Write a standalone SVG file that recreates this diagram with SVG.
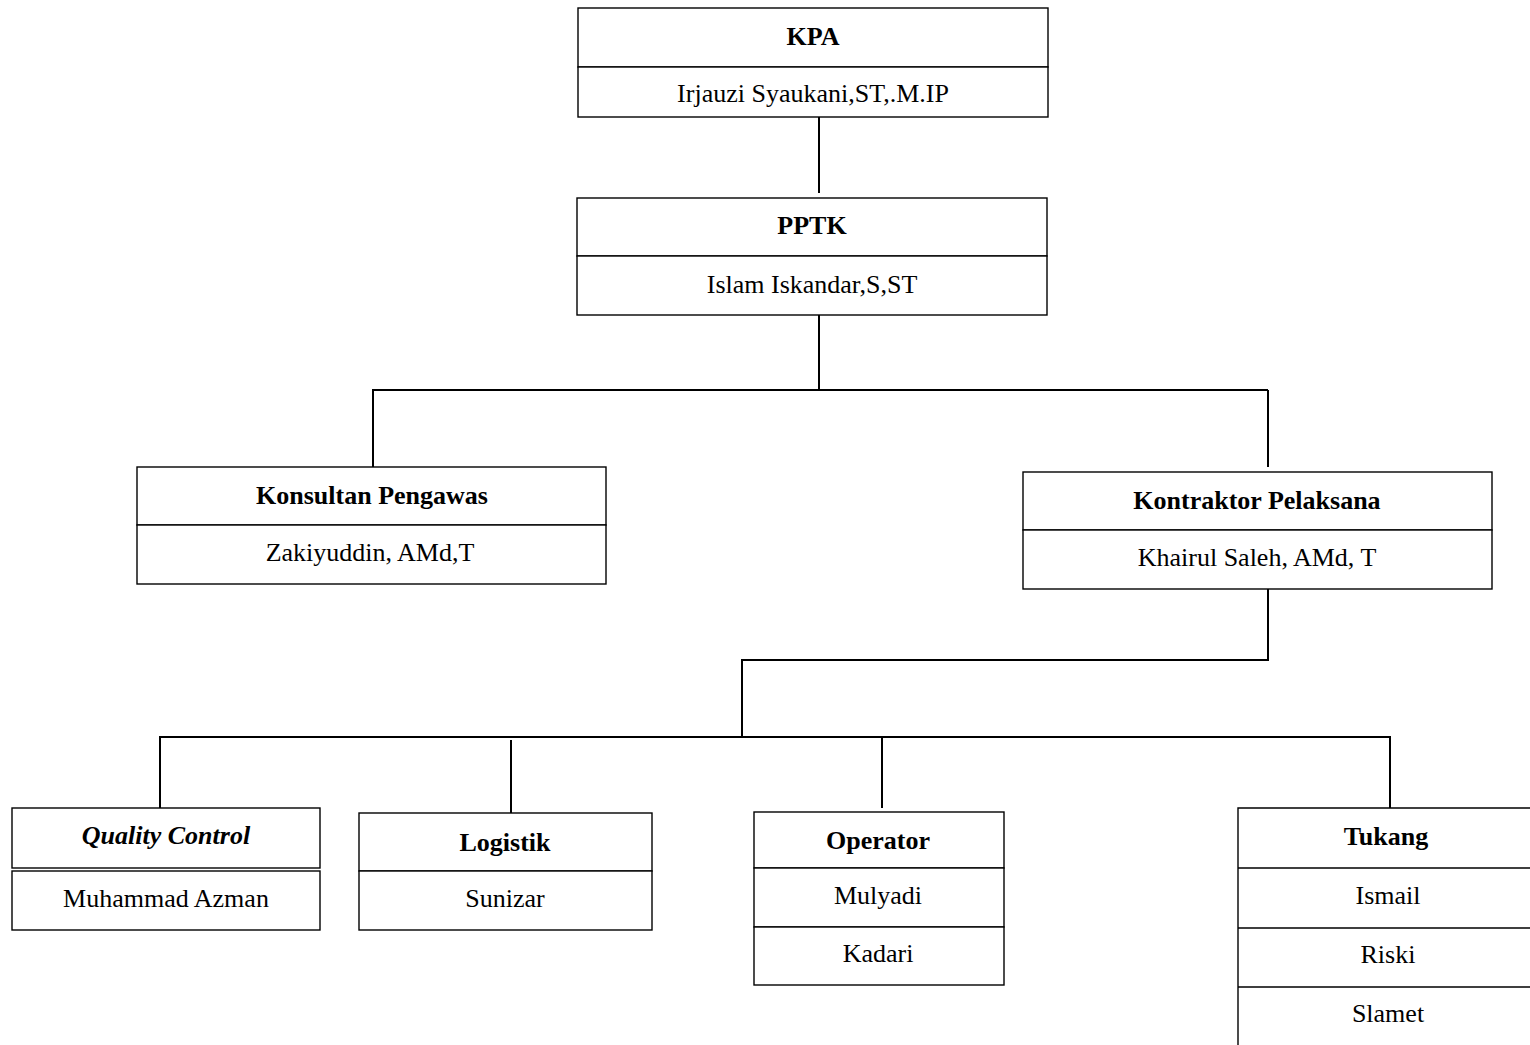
<svg xmlns="http://www.w3.org/2000/svg" width="1530" height="1045" viewBox="0 0 1530 1045">
<style>
.box{fill:#fff;stroke:#000;stroke-width:1.4}
.ln{stroke:#000;stroke-width:2;fill:none}
.h{font-family:"Liberation Serif","Times New Roman",serif;font-size:26px;font-weight:bold;text-anchor:middle;fill:#000}
.n{font-family:"Liberation Serif","Times New Roman",serif;font-size:26px;text-anchor:middle;fill:#000}
.i{font-style:italic}
</style>
<rect width="1530" height="1045" fill="#fff"/>
<g id="connectors">
<path class="ln" d="M819 117V193"/>
<path class="ln" d="M819 315V390"/>
<path class="ln" d="M372 390H1268"/>
<path class="ln" d="M373 390V467"/>
<path class="ln" d="M1268 390V467"/>
<path class="ln" d="M1268 589V660"/>
<path class="ln" d="M741 660H1269"/>
<path class="ln" d="M742 660V737"/>
<path class="ln" d="M159 737H1391"/>
<path class="ln" d="M160 737V808"/>
<path class="ln" d="M511 740V813"/>
<path class="ln" d="M882 737V808"/>
<path class="ln" d="M1390 737V808"/>
</g>
<g id="kpa">
<rect class="box" x="578" y="8" width="470" height="59"/>
<rect class="box" x="578" y="67" width="470" height="50"/>
<text class="h" x="813" y="45">KPA</text>
<text class="n" x="813" y="102">Irjauzi Syaukani,ST,.M.IP</text>
</g>
<g id="pptk">
<rect class="box" x="577" y="198" width="470" height="58"/>
<rect class="box" x="577" y="256" width="470" height="59"/>
<text class="h" x="812" y="234">PPTK</text>
<text class="n" x="812" y="293">Islam Iskandar,S,ST</text>
</g>
<g id="konsultan">
<rect class="box" x="137" y="467" width="469" height="58"/>
<rect class="box" x="137" y="525" width="469" height="59"/>
<text class="h" x="372" y="504">Konsultan Pengawas</text>
<text class="n" x="370" y="561">Zakiyuddin, AMd,T</text>
</g>
<g id="kontraktor">
<rect class="box" x="1023" y="472" width="469" height="58"/>
<rect class="box" x="1023" y="530" width="469" height="59"/>
<text class="h" x="1257" y="509">Kontraktor Pelaksana</text>
<text class="n" x="1257" y="566">Khairul Saleh, AMd, T</text>
</g>
<g id="qc">
<rect class="box" x="12" y="808" width="308" height="60"/>
<rect class="box" x="12" y="871" width="308" height="59"/>
<text class="h i" x="166" y="844">Quality Control</text>
<text class="n" x="166" y="907">Muhammad Azman</text>
</g>
<g id="logistik">
<rect class="box" x="359" y="813" width="293" height="58"/>
<rect class="box" x="359" y="871" width="293" height="59"/>
<text class="h" x="505" y="851">Logistik</text>
<text class="n" x="505" y="907">Sunizar</text>
</g>
<g id="operator">
<rect class="box" x="754" y="812" width="250" height="56"/>
<rect class="box" x="754" y="868" width="250" height="59"/>
<rect class="box" x="754" y="927" width="250" height="58"/>
<text class="h" x="878" y="849">Operator</text>
<text class="n" x="878" y="904">Mulyadi</text>
<text class="n" x="878" y="962">Kadari</text>
</g>
<g id="tukang">
<path class="box" d="M1531 808H1238V1046"/>
<path class="box" d="M1238 868H1531M1238 928H1531M1238 987H1531"/>
<text class="h" x="1386" y="845">Tukang</text>
<text class="n" x="1388" y="904">Ismail</text>
<text class="n" x="1388" y="963">Riski</text>
<text class="n" x="1388" y="1022">Slamet</text>
</g>
</svg>
